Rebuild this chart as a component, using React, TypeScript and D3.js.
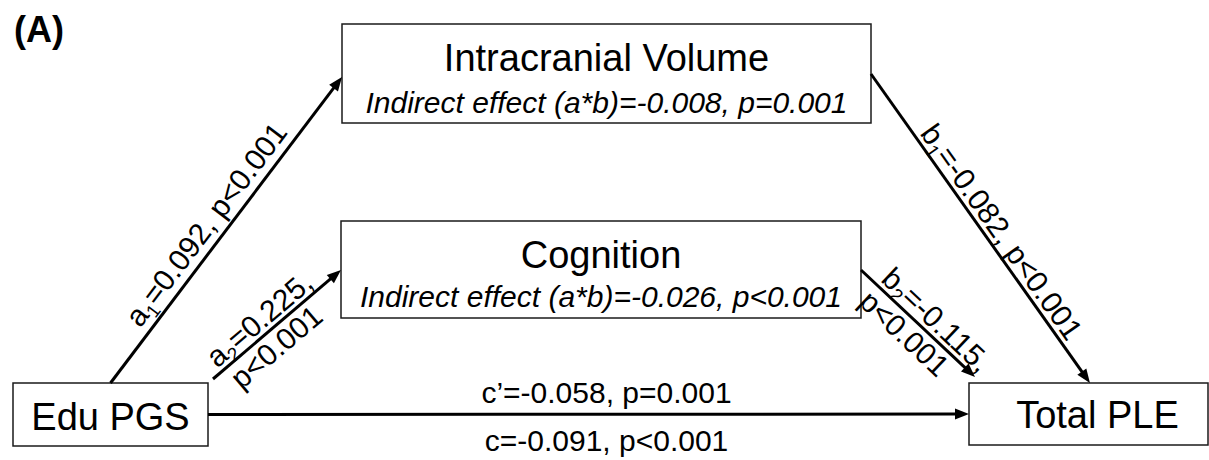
import * as d3 from "d3";

const WIDTH = 1209;
const HEIGHT = 460;
const FONT = '"Liberation Sans", Arial, Helvetica, sans-serif';

// Content
const PANEL_LABEL = "(A)";
const NODE_TITLES = ["Edu PGS", "Intracranial Volume", "Cognition", "Total PLE"];
const NODE_NOTES = [
  "",
  "Indirect effect (a*b)=-0.008, p=0.001",
  "Indirect effect (a*b)=-0.026, p<0.001",
  "",
];
const PATH_LETTERS = ["a", "a", "b", "b"];
const PATH_SUBS = ["1", "2", "1", "2"];
const PATH_COEFS = ["0.092", "0.225", "-0.082", "-0.115"];
const PATH_PS = ["p<0.001", "p<0.001", "p<0.001", "p<0.001"];
const DIRECT_LABEL = "c\u2019=-0.058, p=0.001";
const TOTAL_LABEL = "c=-0.091, p<0.001";

// Layout (boxes in page pixels, text baselines relative to box top)
const BOXES = [
  { x: 13, y: 383, w: 195, h: 63, title: 47, note: 0, dx: 0 },
  { x: 342, y: 24, w: 529, h: 99, title: 47, note: 89, dx: 0 },
  { x: 341, y: 221, w: 520, h: 97, title: 47, note: 86, dx: 0 },
  { x: 969, y: 383, w: 239, h: 62, title: 45, note: 0, dx: 9 },
];

type Anchor = [number, "top" | "left" | "right", number, number?, number?];

// a1, a2, b1, b2 edges
const EDGES: { from: Anchor; to: Anchor }[] = [
  { from: [0, "top", 0.5], to: [1, "left", 0.535] },
  { from: [0, "top", 1, 5, -4], to: [2, "left", 0.505] },
  { from: [1, "right", 0.505], to: [3, "top", 0.506] },
  { from: [2, "right", 0.505], to: [3, "top", 0, 6, -6] },
];
const DIRECT_EDGE = { from: [0, "right", 0.5] as Anchor, to: [3, "left", 0.5] as Anchor };

// label placement along each edge: [fraction along, perpendicular offset of baseline]
const SPLIT_LABEL = [false, true, false, true];
const LABEL_POS = [
  [[0.48, 9]],
  [[0.44, 5], [0.41, -27]],
  [[0.54, 5]],
  [[0.57, 5], [0.48, -27]],
];

const anchor = ([i, side, f, dx = 0, dy = 0]: Anchor): [number, number] => {
  const b = BOXES[i];
  if (side === "top") return [b.x + b.w * f + dx, b.y + dy];
  if (side === "left") return [b.x + dx, b.y + b.h * f + dy];
  return [b.x + b.w + dx, b.y + b.h * f + dy];
};

const ARROW_LEN = 14;
const ARROW_HALF = 5.5;
const LABEL_SIZE = 30;

const line = d3.line();

function Arrow({ p0, p1 }: { p0: [number, number]; p1: [number, number] }) {
  const dx = p1[0] - p0[0];
  const dy = p1[1] - p0[1];
  const len = Math.hypot(dx, dy);
  const ux = dx / len;
  const uy = dy / len;
  const base: [number, number] = [p1[0] - ux * ARROW_LEN, p1[1] - uy * ARROW_LEN];
  const head: [number, number][] = [
    p1,
    [base[0] - uy * ARROW_HALF, base[1] + ux * ARROW_HALF],
    [base[0] + uy * ARROW_HALF, base[1] - ux * ARROW_HALF],
  ];
  return (
    <g>
      <path d={line([p0, [base[0] + ux, base[1] + uy]]) ?? ""} stroke="#000" strokeWidth={3} fill="none" />
      <path d={(line(head) ?? "") + "Z"} fill="#000" />
    </g>
  );
}

function placeOnEdge(p0: [number, number], p1: [number, number], t: number, d: number) {
  const dx = p1[0] - p0[0];
  const dy = p1[1] - p0[1];
  const ang = Math.atan2(dy, dx);
  const x = p0[0] + dx * t + Math.sin(ang) * d;
  const y = p0[1] + dy * t - Math.cos(ang) * d;
  return `translate(${x},${y}) rotate(${(ang * 180) / Math.PI})`;
}

export default function App() {
  const edgeLabels = EDGES.map((e, i) => {
    const p0 = anchor(e.from);
    const p1 = anchor(e.to);
    const head = (
      <>
        <tspan>{PATH_LETTERS[i]}</tspan>
        <tspan fontSize={19} dy={6}>
          {PATH_SUBS[i]}
        </tspan>
        <tspan dy={-6}>{"=" + PATH_COEFS[i] + ","}</tspan>
      </>
    );
    if (!SPLIT_LABEL[i]) {
      const [t, d] = LABEL_POS[i][0];
      return (
        <text key={i} transform={placeOnEdge(p0, p1, t, d)} textAnchor="middle" fontSize={LABEL_SIZE}>
          {head}
          <tspan>{" " + PATH_PS[i]}</tspan>
        </text>
      );
    }
    const [[t1, d1], [t2, d2]] = LABEL_POS[i];
    return (
      <g key={i}>
        <text transform={placeOnEdge(p0, p1, t1, d1)} textAnchor="middle" fontSize={LABEL_SIZE}>
          {head}
        </text>
        <text transform={placeOnEdge(p0, p1, t2, d2)} textAnchor="middle" fontSize={LABEL_SIZE}>
          {PATH_PS[i]}
        </text>
      </g>
    );
  });

  const c0 = anchor(DIRECT_EDGE.from);
  const c1 = anchor(DIRECT_EDGE.to);
  const cMid = (c0[0] + c1[0]) / 2 + 18;

  return (
    <svg
      width={WIDTH}
      height={HEIGHT}
      style={{ position: "absolute", left: 0, top: 0, background: "#fff" }}
      fontFamily={FONT}
    >
      <text x={14} y={42} fontSize={36} fontWeight="bold">
        {PANEL_LABEL}
      </text>

      {BOXES.map((b, i) => (
        <g key={i}>
          <rect x={b.x} y={b.y} width={b.w} height={b.h} fill="#fff" stroke="#1a1a1a" strokeWidth={1.5} />
          <text x={b.x + b.w / 2 + b.dx} y={b.y + b.title} textAnchor="middle" fontSize={38}>
            {NODE_TITLES[i]}
          </text>
          {NODE_NOTES[i] && (
            <text
              x={b.x + b.w / 2}
              y={b.y + b.note}
              textAnchor="middle"
              fontSize={30}
              fontStyle="italic"
            >
              {NODE_NOTES[i]}
            </text>
          )}
        </g>
      ))}

      {EDGES.map((e, i) => (
        <Arrow key={i} p0={anchor(e.from)} p1={anchor(e.to)} />
      ))}
      <Arrow p0={c0} p1={c1} />

      {edgeLabels}

      <text x={cMid} y={c0[1] - 12} textAnchor="middle" fontSize={LABEL_SIZE}>
        {DIRECT_LABEL}
      </text>
      <text x={cMid} y={c0[1] + 36} textAnchor="middle" fontSize={LABEL_SIZE}>
        {TOTAL_LABEL}
      </text>
    </svg>
  );
}
